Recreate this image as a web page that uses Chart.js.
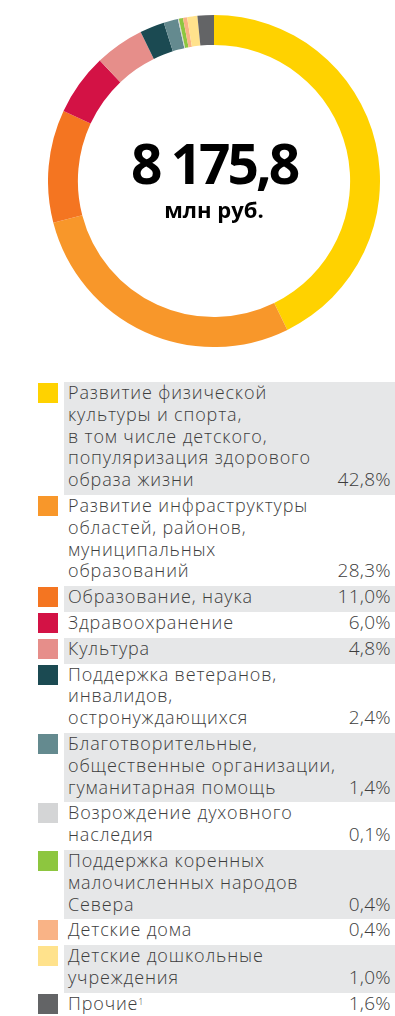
<!DOCTYPE html>
<html>
<head>
<meta charset="utf-8">
<script src="https://cdn.jsdelivr.net/npm/chart.js@4"></script>
<style>
  html, body { margin: 0; padding: 0; background: #fff; }
  body { width: 395px; height: 1016px; position: relative; overflow: hidden; font-family: "Open Sans", sans-serif; }
  #donut { position: absolute; left: 48px; top: 15px; width: 332px; height: 332px; }
  #total { position: absolute; left: 0; top: 135px; width: 428px; text-align: center; color: #000; font-weight: 700; }
  #total .num { font-size: 55px; line-height: 56px; letter-spacing: -3px; }
  #total .unit { font-size: 22px; line-height: 24px; margin-top: 6px; }
  #legend { position: absolute; left: 0; top: 382px; width: 395px; }
  .row { position: relative; display: flex; }
  .sw { position: absolute; left: 38px; top: 1px; width: 20px; height: 20px; }
  .box { margin-left: 64px; flex: 1; padding: 0 4px 4px 4px; font-size: 18px; line-height: 21.8px; letter-spacing: 0.85px; color: #3d3d3d; font-weight: 300; position: relative; }
  .row.shade .box { background: #e6e7e8; }
  .pct { position: absolute; right: 4px; bottom: 4px; font-size: 19px; letter-spacing: 0.3px; }
  sup { font-size: 9px; vertical-align: top; position: relative; top: -2px; }
</style>
</head>
<body>
<div id="donut"><canvas id="c"></canvas></div>
<div id="total"><div class="num">8 175,8</div><div class="unit">млн руб.</div></div>
<div id="legend"></div>
<script>
// Структура расходов, % от общей суммы
const categories = [
  ['Развитие физической', 'культуры и спорта,', 'в том числе детского,', 'популяризация здорового', 'образа жизни'],
  ['Развитие инфраструктуры', 'областей, районов,', 'муниципальных', 'образований'],
  ['Образование, наука'],
  ['Здравоохранение'],
  ['Культура'],
  ['Поддержка ветеранов,', 'инвалидов,', 'остронуждающихся'],
  ['Благотворительные,', 'общественные организации,', 'гуманитарная помощь'],
  ['Возрождение духовного', 'наследия'],
  ['Поддержка коренных', 'малочисленных народов', 'Севера'],
  ['Детские дома'],
  ['Детские дошкольные', 'учреждения'],
  ['Прочие¹']
];
const shares = [42.8, 28.3, 11.0, 6.0, 4.8, 2.4, 1.4, 0.1, 0.4, 0.4, 1.0, 1.6];
const colors = ['#ffd200', '#f8972a', '#f47521', '#d31245', '#e68e8a', '#1b4a52', '#648a8f',
                '#d4d5d6', '#8dc63f', '#f9b386', '#ffe28c', '#636466'];

new Chart(document.getElementById('c'), {
  type: 'doughnut',
  data: {
    labels: categories,
    datasets: [{ data: shares, backgroundColor: colors, borderWidth: 0 }]
  },
  options: {
    responsive: true, maintainAspectRatio: false, animation: false,
    cutout: '82%',
    plugins: { legend: { display: false }, tooltip: { enabled: false } }
  }
});

// легенда
const fmt = v => v.toFixed(1).replace('.', ',') + '%';
const legend = document.getElementById('legend');
categories.forEach((lines, i) => {
  const row = document.createElement('div');
  row.className = 'row' + (i % 2 === 0 ? ' shade' : '');
  const text = lines.map(l => l.replace('¹', '<sup>1</sup>')).join('<br>');
  row.innerHTML = '<div class="sw" style="background:' + colors[i] + '"></div>' +
    '<div class="box">' + text + '<span class="pct">' + fmt(shares[i]) + '</span></div>';
  legend.appendChild(row);
});
</script>
</body>
</html>
